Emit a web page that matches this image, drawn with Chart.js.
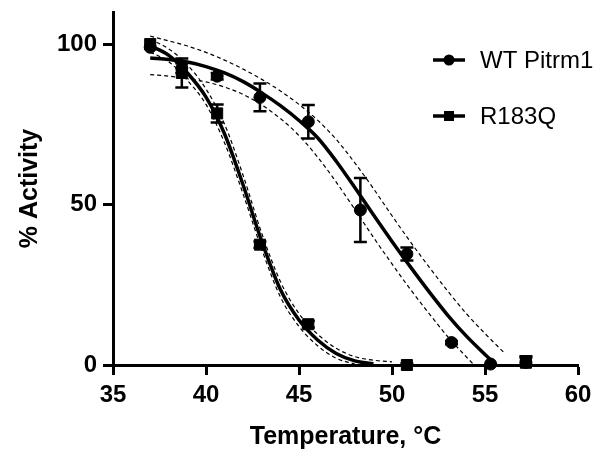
<!DOCTYPE html>
<html>
<head>
<meta charset="utf-8">
<script src="https://cdn.jsdelivr.net/npm/chart.js@4"></script>
<style>
  html, body { margin: 0; padding: 0; background: #fff; }
  #wrap { width: 600px; height: 450px; }
</style>
</head>
<body>
<div id="wrap"><canvas id="chart" width="600" height="450"></canvas></div>
<script>
// measured points (mean +/- error)
const temps = [37.0, 38.7, 40.6, 42.9, 45.5, 48.3, 50.8, 53.2, 55.3, 57.2];
const wtActivity = [99, 92.5, 90.0, 83.4, 75.8, 48.3, 34.6, 7.0, 0.3, 0.8];
const wtError = [0, 1.5, 1.0, 4.3, 5.2, 10.0, 2.0, 0.5, 0, 1.5];
const r183qActivity = [100, 91.0, 78.4, 37.5, 12.7, null, 0, null, null, 0.7];
const r183qError = [0, 4.5, 2.8, 1.0, 1.0, null, 0.5, null, null, 2.0];

// fitted curves and 95% bands
const fitTemps = [37, 38, 39, 40, 41, 42, 43, 44, 45, 46, 47, 48, 49, 50, 51, 52, 53, 54, 55, 56];
const wtFit = [95.7, 95.2, 94.4, 93.0, 91.0, 88.3, 84.8, 80.8, 76.2, 70.8, 63.5, 55.3, 46.8, 38.5, 30.5, 22.8, 15.5, 9.0, 3.3, -2.2];
const wtHigh = [102.5, 101, 99.4, 97.4, 95, 92.2, 89, 85.4, 81.2, 76.3, 70.3, 63, 55, 46.5, 38.3, 30.5, 23, 16, 9.8, 4];
const wtLow = [90.5, 90, 89.2, 88.2, 86.6, 84.3, 81, 76.8, 71.5, 64.8, 57, 48.5, 39.8, 31.5, 23.5, 16, 8.8, 2.5, -3.5, null];
const r183qFit = [99.5, 96.5, 91, 83.5, 72, 56, 38.5, 23.5, 14, 7.8, 3.6, 1.3, 0.4, null, null, null, null, null, null, null];
const r183qHigh = [101.5, 98.5, 93.5, 86, 75, 59, 41, 26, 16, 9.6, 5.2, 2.6, 1.5, 1, null, null, null, null, null, null];
const r183qLow = [97.5, 94.5, 88.7, 81.2, 69.2, 53.2, 36, 21.2, 12, 6, 2.1, 0.3, null, null, null, null, null, null, null, null];

const xTicks = [35, 40, 45, 50, 55, 60];
const yTicks = [0, 50, 100];
const seriesNames = ["WT Pitrm1", "R183Q"];

const FONT = "'Liberation Sans', Arial, Helvetica, sans-serif";

function pts(xs, ys) {
  return xs.map((t, i) => ({ x: t, y: ys[i] })).filter((p) => p.y != null);
}

function curve(data, dashed) {
  return {
    type: "line",
    data,
    showLine: true,
    borderColor: "#000",
    borderWidth: dashed ? 1.2 : 3.5,
    borderDash: dashed ? [4, 3] : [],
    pointRadius: 0,
    cubicInterpolationMode: "monotone",
    fill: false,
    order: dashed ? 3 : 2,
  };
}

const errorBars = {
  id: "errorBars",
  afterDatasetsDraw(chart) {
    const { ctx, scales } = chart;
    ctx.save();
    ctx.strokeStyle = "#000";
    ctx.lineWidth = 2.5;
    [[wtActivity, wtError], [r183qActivity, r183qError]].forEach(([vals, errs]) => {
      temps.forEach((t, i) => {
        if (vals[i] == null || !errs[i]) return;
        const px = scales.x.getPixelForValue(t);
        const top = scales.y.getPixelForValue(vals[i] + errs[i]);
        const bot = scales.y.getPixelForValue(Math.max(0, vals[i] - errs[i]));
        ctx.beginPath();
        ctx.moveTo(px, top); ctx.lineTo(px, bot);
        ctx.moveTo(px - 6.5, top); ctx.lineTo(px + 6.5, top);
        ctx.moveTo(px - 6.5, bot); ctx.lineTo(px + 6.5, bot);
        ctx.stroke();
      });
    });
    ctx.restore();
  },
};

const legendBox = {
  id: "legendBox",
  afterDraw(chart) {
    const ctx = chart.ctx;
    ctx.save();
    const rows = [60, 116];
    seriesNames.forEach((name, i) => {
      const y = rows[i];
      ctx.strokeStyle = "#000";
      ctx.lineWidth = 3.5;
      ctx.beginPath();
      ctx.moveTo(433, y); ctx.lineTo(465, y);
      ctx.stroke();
      ctx.fillStyle = "#000";
      ctx.beginPath();
      if (i === 0) ctx.arc(449, y, 5.5, 0, Math.PI * 2);
      else ctx.rect(444, y - 5, 10, 10);
      ctx.fill();
      ctx.font = "24px " + FONT;
      ctx.textBaseline = "middle";
      ctx.fillText(name, 480, y + 1);
    });
    ctx.restore();
  },
};

new Chart(document.getElementById("chart"), {
  type: "scatter",
  data: {
    datasets: [
      {
        label: seriesNames[0],
        data: pts(temps, wtActivity),
        pointStyle: "circle",
        pointRadius: 6,
        backgroundColor: "#000",
        borderColor: "#000",
        showLine: false,
        clip: false,
        order: 0,
      },
      {
        label: seriesNames[1],
        data: pts(temps, r183qActivity),
        pointStyle: "rect",
        pointRadius: 7.8,
        backgroundColor: "#000",
        borderColor: "#000",
        showLine: false,
        clip: false,
        order: 1,
      },
      curve(pts(fitTemps, wtFit), false),
      curve(pts(fitTemps, r183qFit), false),
      curve(pts(fitTemps, wtHigh), true),
      curve(pts(fitTemps, wtLow), true),
      curve(pts(fitTemps, r183qHigh), true),
      curve(pts(fitTemps, r183qLow), true),
    ],
  },
  options: {
    responsive: false,
    animation: false,
    layout: { padding: { left: 0, right: 22, top: 12, bottom: 0 } },
    plugins: { legend: { display: false }, tooltip: { enabled: false } },
    scales: {
      x: {
        type: "linear",
        min: 35,
        max: 60,
        afterBuildTicks: (s) => { s.ticks = xTicks.map((v) => ({ value: v })); },
        afterFit: (s) => { s.height = 85; s.paddingLeft = 0; s.paddingRight = 0; },
        grid: { drawOnChartArea: false, drawTicks: true, tickLength: 10, tickWidth: 3, tickColor: "#000", color: "#000" },
        border: { display: true, color: "#000", width: 3 },
        ticks: { color: "#000", padding: 6, maxRotation: 0, font: { family: FONT, size: 24, weight: "bold" } },
        title: { display: true, text: "Temperature, °C", color: "#000", padding: { top: 0, bottom: 0 }, font: { family: FONT, size: 25, weight: "bold", lineHeight: 1.0 } },
      },
      y: {
        min: 0,
        max: 110,
        afterBuildTicks: (s) => { s.ticks = yTicks.map((v) => ({ value: v })); },
        afterFit: (s) => { s.width = 113; s.paddingTop = 0; s.paddingBottom = 0; },
        grid: { drawOnChartArea: false, drawTicks: true, tickLength: 10, tickWidth: 3, tickColor: "#000", color: "#000" },
        border: { display: true, color: "#000", width: 3 },
        ticks: { color: "#000", padding: 6, font: { family: FONT, size: 24, weight: "bold" } },
        title: { display: true, text: "% Activity", color: "#000", padding: { top: 15, bottom: 0 }, font: { family: FONT, size: 25, weight: "bold" } },
      },
    },
  },
  plugins: [errorBars, legendBox],
});
</script>
</body>
</html>
